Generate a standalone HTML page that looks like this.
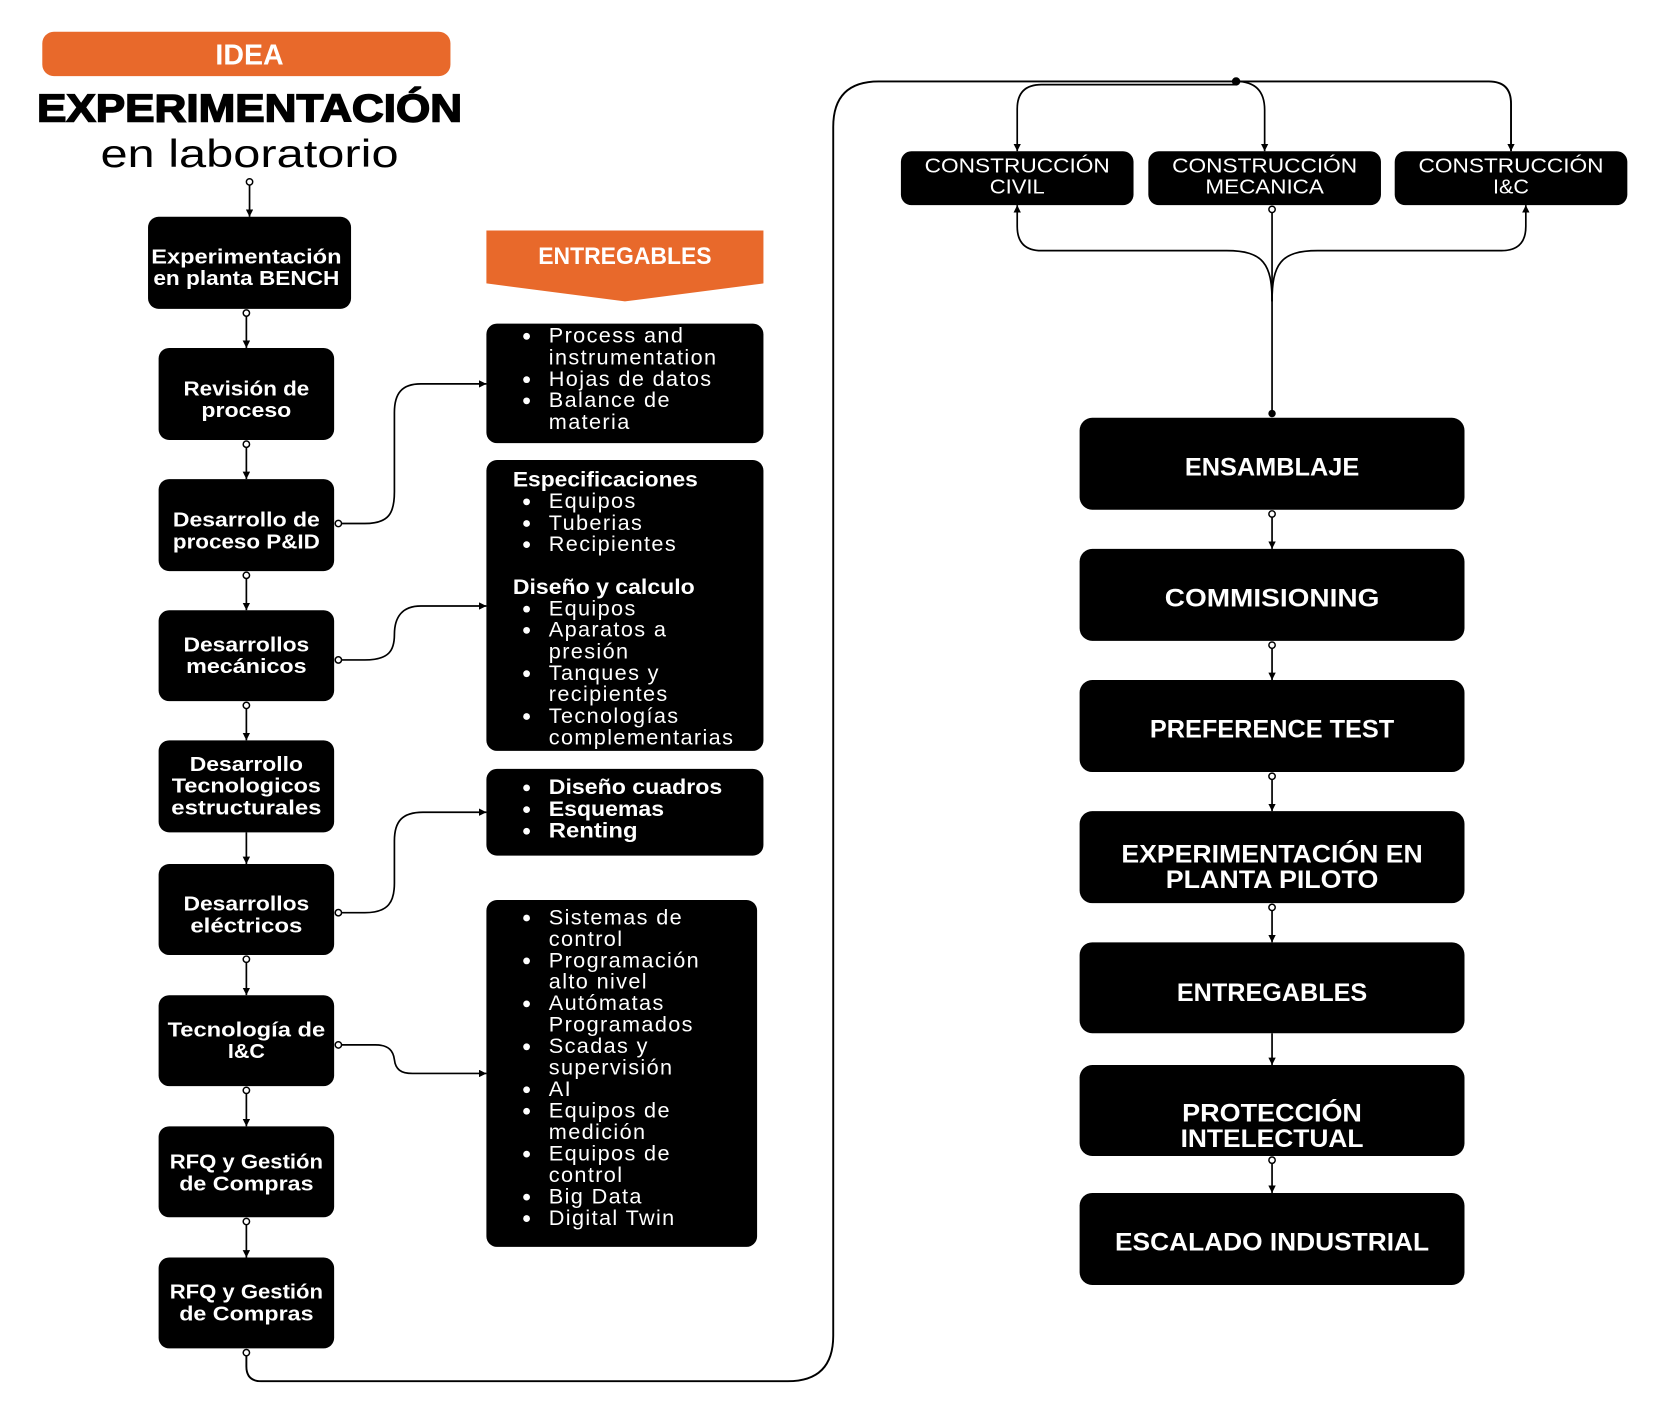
<!DOCTYPE html>
<html><head><meta charset="utf-8"><style>
html,body{margin:0;padding:0;background:#fff;}
svg{display:block;}
text{font-family:"Liberation Sans",Arial,sans-serif;}
.wb{fill:#fff;font-weight:bold;}
.wr{fill:#fff;}
.ln{fill:none;stroke:#000;stroke-width:1.6;}
.oc{fill:#fff;stroke:#000;stroke-width:1.4;}
</style></head><body>
<svg width="1658" height="1414" viewBox="0 0 1568 1337" preserveAspectRatio="none" xmlns="http://www.w3.org/2000/svg">
<defs>
<marker id="ah" viewBox="0 0 10 10" refX="10" refY="5" markerWidth="7" markerHeight="7" orient="auto" markerUnits="userSpaceOnUse"><path d="M0,0 L10,5 L0,10 z" fill="#000"/></marker>
</defs>
<rect width="1568" height="1337" fill="#fff"/>

<!-- Header -->
<rect x="40" y="30" width="386" height="42" rx="11" fill="#E8692B"/>
<text x="236" y="61" text-anchor="middle" class="wb" font-size="27">IDEA</text>
<text x="35" y="115" font-size="37" font-weight="bold" fill="#000" stroke="#000" stroke-width="1.4" textLength="402" lengthAdjust="spacingAndGlyphs">EXPERIMENTACIÓN</text>
<text x="95" y="158" font-size="37" fill="#000" textLength="282" lengthAdjust="spacingAndGlyphs">en laboratorio</text>
<circle cx="236" cy="172" r="3" class="oc"/>
<path d="M236,175 V205" class="ln" marker-end="url(#ah)"/>

<!-- Left column boxes -->
<rect x="140" y="205" width="192" height="87" rx="10" fill="#000"/>
<rect x="150" y="329" width="166" height="87" rx="10" fill="#000"/>
<rect x="150" y="453" width="166" height="87" rx="10" fill="#000"/>
<rect x="150" y="577" width="166" height="86" rx="10" fill="#000"/>
<rect x="150" y="700" width="166" height="87" rx="10" fill="#000"/>
<rect x="150" y="817" width="166" height="86" rx="10" fill="#000"/>
<rect x="150" y="941" width="166" height="86" rx="10" fill="#000"/>
<rect x="150" y="1065" width="166" height="86" rx="10" fill="#000"/>
<rect x="150" y="1189" width="166" height="86" rx="10" fill="#000"/>

<g class="wb" font-size="19.5" text-anchor="middle">
<text x="233" y="249" textLength="180" lengthAdjust="spacingAndGlyphs">Experimentación</text>
<text x="233" y="269.5" textLength="176" lengthAdjust="spacingAndGlyphs">en planta BENCH</text>
<text x="233" y="374" textLength="119" lengthAdjust="spacingAndGlyphs">Revisión de</text>
<text x="233" y="394.5" textLength="85" lengthAdjust="spacingAndGlyphs">proceso</text>
<text x="233" y="498" textLength="139" lengthAdjust="spacingAndGlyphs">Desarrollo de</text>
<text x="233" y="518.5" textLength="139" lengthAdjust="spacingAndGlyphs">proceso P&amp;ID</text>
<text x="233" y="616" textLength="119" lengthAdjust="spacingAndGlyphs">Desarrollos</text>
<text x="233" y="636.5" textLength="114" lengthAdjust="spacingAndGlyphs">mecánicos</text>
<text x="233" y="729" textLength="107" lengthAdjust="spacingAndGlyphs">Desarrollo</text>
<text x="233" y="749.5" textLength="141" lengthAdjust="spacingAndGlyphs">Tecnologicos</text>
<text x="233" y="770" textLength="142" lengthAdjust="spacingAndGlyphs">estructurales</text>
<text x="233" y="861" textLength="119" lengthAdjust="spacingAndGlyphs">Desarrollos</text>
<text x="233" y="881.5" textLength="106" lengthAdjust="spacingAndGlyphs">eléctricos</text>
<text x="233" y="980" textLength="149" lengthAdjust="spacingAndGlyphs">Tecnología de</text>
<text x="233" y="1000.5" textLength="35" lengthAdjust="spacingAndGlyphs">I&amp;C</text>
<text x="233" y="1105" textLength="145" lengthAdjust="spacingAndGlyphs">RFQ y Gestión</text>
<text x="233" y="1125.5" textLength="127" lengthAdjust="spacingAndGlyphs">de Compras</text>
<text x="233" y="1228" textLength="145" lengthAdjust="spacingAndGlyphs">RFQ y Gestión</text>
<text x="233" y="1248.5" textLength="127" lengthAdjust="spacingAndGlyphs">de Compras</text>
</g>

<!-- Left vertical connectors -->
<g>
<circle cx="233" cy="296" r="3" class="oc"/><path d="M233,299 V329" class="ln" marker-end="url(#ah)"/>
<circle cx="233" cy="420" r="3" class="oc"/><path d="M233,423 V453" class="ln" marker-end="url(#ah)"/>
<circle cx="233" cy="544" r="3" class="oc"/><path d="M233,547 V577" class="ln" marker-end="url(#ah)"/>
<circle cx="233" cy="667" r="3" class="oc"/><path d="M233,670 V700" class="ln" marker-end="url(#ah)"/>
<path d="M233,787 V817" class="ln" marker-end="url(#ah)"/>
<circle cx="233" cy="907" r="3" class="oc"/><path d="M233,910 V941" class="ln" marker-end="url(#ah)"/>
<circle cx="233" cy="1031" r="3" class="oc"/><path d="M233,1034 V1065" class="ln" marker-end="url(#ah)"/>
<circle cx="233" cy="1155" r="3" class="oc"/><path d="M233,1158 V1189" class="ln" marker-end="url(#ah)"/>
</g>

<!-- Side connectors -->
<path d="M323,495 H345 C368,495 373,485 373,465 V390 C373,372 380,363 398,363 H460" class="ln" marker-end="url(#ah)"/>
<circle cx="320" cy="495" r="3" class="oc"/>
<path d="M323,624 H345 C368,624 373,615 373,600 C373,584 380,573 398,573 H460" class="ln" marker-end="url(#ah)"/>
<circle cx="320" cy="624" r="3" class="oc"/>
<path d="M323,863 H345 C368,863 373,852 373,835 V795 C373,777 380,768 400,768 H460" class="ln" marker-end="url(#ah)"/>
<circle cx="320" cy="863" r="3" class="oc"/>
<path d="M323,988 H355 C368,988 372,994 373,1002 C374,1011 379,1015 390,1015 H460" class="ln" marker-end="url(#ah)"/>
<circle cx="320" cy="988" r="3" class="oc"/>

<!-- ENTREGABLES banner -->
<path d="M460,218 H722 V268 L591,285 L460,268 Z" fill="#E8692B"/>
<text x="591" y="249.5" text-anchor="middle" class="wb" font-size="22.5" textLength="164" lengthAdjust="spacingAndGlyphs">ENTREGABLES</text>

<!-- Middle boxes -->
<rect x="460" y="306" width="262" height="113" rx="10" fill="#000"/>
<rect x="460" y="435" width="262" height="275" rx="10" fill="#000"/>
<rect x="460" y="727" width="262" height="82" rx="10" fill="#000"/>
<rect x="460" y="851" width="256" height="328" rx="10" fill="#000"/>

<g class="wr" font-size="20.5" letter-spacing="1.3">
<text x="519" y="324">Process and</text>
<text x="519" y="344.5">instrumentation</text>
<text x="519" y="365">Hojas de datos</text>
<text x="519" y="385">Balance de</text>
<text x="519" y="405.5">materia</text>

<text x="519" y="480.5">Equipos</text>
<text x="519" y="501">Tuberias</text>
<text x="519" y="521">Recipientes</text>
<text x="519" y="582">Equipos</text>
<text x="519" y="602">Aparatos a</text>
<text x="519" y="622.5">presión</text>
<text x="519" y="643">Tanques y</text>
<text x="519" y="663">recipientes</text>
<text x="519" y="683.5">Tecnologías</text>
<text x="519" y="704">complementarias</text>

<text x="519" y="874">Sistemas de</text>
<text x="519" y="894.3">control</text>
<text x="519" y="914.6">Programación</text>
<text x="519" y="934.9">alto nivel</text>
<text x="519" y="955.2">Autómatas</text>
<text x="519" y="975.5">Programados</text>
<text x="519" y="995.8">Scadas y</text>
<text x="519" y="1016.1">supervisión</text>
<text x="519" y="1036.4">AI</text>
<text x="519" y="1056.7">Equipos de</text>
<text x="519" y="1077">medición</text>
<text x="519" y="1097.3">Equipos de</text>
<text x="519" y="1117.6">control</text>
<text x="519" y="1137.9">Big Data</text>
<text x="519" y="1158.2">Digital Twin</text>
</g>
<g class="wb" font-size="20.5">
<text x="485" y="460" textLength="175" lengthAdjust="spacingAndGlyphs">Especificaciones</text>
<text x="485" y="561.5" textLength="172" lengthAdjust="spacingAndGlyphs">Diseño y calculo</text>
<text x="519" y="751" textLength="164" lengthAdjust="spacingAndGlyphs">Diseño cuadros</text>
<text x="519" y="771.5" textLength="109" lengthAdjust="spacingAndGlyphs">Esquemas</text>
<text x="519" y="792" textLength="84" lengthAdjust="spacingAndGlyphs">Renting</text>
</g>
<g fill="#fff">
<circle cx="498" cy="318" r="3.2"/><circle cx="498" cy="359" r="3.2"/><circle cx="498" cy="379" r="3.2"/>
<circle cx="498" cy="474.5" r="3.2"/><circle cx="498" cy="495" r="3.2"/><circle cx="498" cy="515" r="3.2"/>
<circle cx="498" cy="576" r="3.2"/><circle cx="498" cy="596" r="3.2"/><circle cx="498" cy="637" r="3.2"/><circle cx="498" cy="677.5" r="3.2"/>
<circle cx="498" cy="745" r="3.2"/><circle cx="498" cy="765.5" r="3.2"/><circle cx="498" cy="786" r="3.2"/>
<circle cx="498" cy="868" r="3.2"/><circle cx="498" cy="908.6" r="3.2"/><circle cx="498" cy="949.2" r="3.2"/><circle cx="498" cy="989.8" r="3.2"/><circle cx="498" cy="1030.4" r="3.2"/><circle cx="498" cy="1050.7" r="3.2"/><circle cx="498" cy="1091.3" r="3.2"/><circle cx="498" cy="1131.9" r="3.2"/><circle cx="498" cy="1152.2" r="3.2"/>
</g>

<!-- Big loop -->
<circle cx="233" cy="1279" r="3" class="oc"/>
<path d="M233,1282 V1292 Q233,1306 247,1306 H745 Q788,1306 788,1263 V120 Q788,77 831,77 H1408 Q1429,77 1429,98 V143" fill="none" stroke="#000" stroke-width="1.8" marker-end="url(#ah)"/>
<path d="M1169,80 H985 Q962,80 962,103 V143" class="ln" marker-end="url(#ah)"/>
<path d="M1169,77 Q1196,77 1196,104 V143" class="ln" marker-end="url(#ah)"/>
<circle cx="1169" cy="77" r="4" fill="#000"/>

<!-- Construccion boxes -->
<rect x="852" y="143" width="220" height="51" rx="10" fill="#000"/>
<rect x="1086" y="143" width="220" height="51" rx="10" fill="#000"/>
<rect x="1319" y="143" width="220" height="51" rx="10" fill="#000"/>
<g class="wr" font-size="19" text-anchor="middle">
<text x="962" y="163" textLength="175" lengthAdjust="spacingAndGlyphs">CONSTRUCCIÓN</text>
<text x="962" y="183" textLength="52" lengthAdjust="spacingAndGlyphs">CIVIL</text>
<text x="1196" y="163" textLength="175" lengthAdjust="spacingAndGlyphs">CONSTRUCCIÓN</text>
<text x="1196" y="183" textLength="112" lengthAdjust="spacingAndGlyphs">MECANICA</text>
<text x="1429" y="163" textLength="175" lengthAdjust="spacingAndGlyphs">CONSTRUCCIÓN</text>
<text x="1429" y="183" textLength="34" lengthAdjust="spacingAndGlyphs">I&amp;C</text>
</g>

<!-- Fork below construccion -->
<circle cx="1203" cy="198" r="3" class="oc"/>
<path d="M1203,201 V391" class="ln"/>
<path d="M1203,285 C1203,250 1195,237 1160,237 H985 Q962,237 962,214 V194" class="ln" marker-end="url(#ah)"/>
<path d="M1203,285 C1203,250 1211,237 1246,237 H1420 Q1443,237 1443,214 V194" class="ln" marker-end="url(#ah)"/>
<circle cx="1203" cy="391" r="3.5" fill="#000"/>

<!-- Right column boxes -->
<rect x="1021" y="395" width="364" height="87" rx="12" fill="#000"/>
<rect x="1021" y="519" width="364" height="87" rx="12" fill="#000"/>
<rect x="1021" y="643" width="364" height="87" rx="12" fill="#000"/>
<rect x="1021" y="767" width="364" height="87" rx="12" fill="#000"/>
<rect x="1021" y="891" width="364" height="86" rx="12" fill="#000"/>
<rect x="1021" y="1007" width="364" height="86" rx="12" fill="#000"/>
<rect x="1021" y="1128" width="364" height="87" rx="12" fill="#000"/>
<g class="wb" font-size="24" text-anchor="middle">
<text x="1203" y="449.5" textLength="165" lengthAdjust="spacingAndGlyphs">ENSAMBLAJE</text>
<text x="1203" y="573.5" textLength="203" lengthAdjust="spacingAndGlyphs">COMMISIONING</text>
<text x="1203" y="697.5" textLength="231" lengthAdjust="spacingAndGlyphs">PREFERENCE TEST</text>
<text x="1203" y="815.5" textLength="285" lengthAdjust="spacingAndGlyphs">EXPERIMENTACIÓN EN</text>
<text x="1203" y="839.5" textLength="201" lengthAdjust="spacingAndGlyphs">PLANTA PILOTO</text>
<text x="1203" y="946.5" textLength="180" lengthAdjust="spacingAndGlyphs">ENTREGABLES</text>
<text x="1203" y="1060.5" textLength="170" lengthAdjust="spacingAndGlyphs">PROTECCIÓN</text>
<text x="1203" y="1084.5" textLength="173" lengthAdjust="spacingAndGlyphs">INTELECTUAL</text>
<text x="1203" y="1182.5" textLength="297" lengthAdjust="spacingAndGlyphs">ESCALADO INDUSTRIAL</text>
</g>

<!-- Right connectors -->
<circle cx="1203" cy="486" r="3" class="oc"/><path d="M1203,489 V519" class="ln" marker-end="url(#ah)"/>
<circle cx="1203" cy="610" r="3" class="oc"/><path d="M1203,613 V643" class="ln" marker-end="url(#ah)"/>
<circle cx="1203" cy="734" r="3" class="oc"/><path d="M1203,737 V767" class="ln" marker-end="url(#ah)"/>
<circle cx="1203" cy="858" r="3" class="oc"/><path d="M1203,861 V891" class="ln" marker-end="url(#ah)"/>
<path d="M1203,977 V1007" class="ln" marker-end="url(#ah)"/>
<circle cx="1203" cy="1097" r="3" class="oc"/><path d="M1203,1100 V1128" class="ln" marker-end="url(#ah)"/>
</svg>
</body></html>
